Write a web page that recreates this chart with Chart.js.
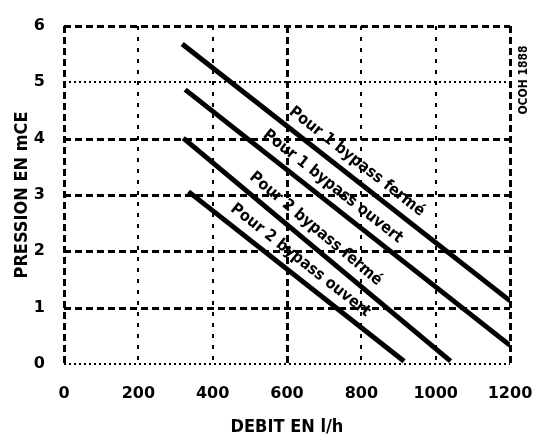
<!DOCTYPE html>
<html>
<head>
<meta charset="utf-8">
<script src="https://cdn.jsdelivr.net/npm/chart.js@4/dist/chart.umd.min.js"></script>
<style>
  html, body { margin: 0; padding: 0; background: #ffffff; }
  #wrap { width: 535px; height: 440px; }
</style>
</head>
<body>
<div id="wrap"><canvas id="c" width="535" height="440"></canvas></div>
<script>
// Axis ticks
const debitTicks = [0, 200, 400, 600, 800, 1000, 1200];
const pressionTicks = [0, 1, 2, 3, 4, 5, 6];

// Pump curves: flow (l/h) and pressure (mCE) at both ends of each straight line
const courbeNoms = ['Pour 1 bypass fermé', 'Pour 1 bypass ouvert', 'Pour 2 bypass fermé', 'Pour 2 bypass ouvert'];
const courbe1Debit = [318, 1200];
const courbe1Pression = [5.68, 1.12];
const courbe2Debit = [326, 1200];
const courbe2Pression = [4.87, 0.33];
const courbe3Debit = [321, 1040];
const courbe3Pression = [4.01, 0.05];
const courbe4Debit = [335, 915];
const courbe4Pression = [3.06, 0.05];

const reference = 'OCOH 1888';

// Flow value where each curve label begins (placement only)
const labelDebitDebut = [585, 515, 478, 428];

const toPoints = (xs, ys) => xs.map((x, i) => ({ x: x, y: ys[i] }));

// Grid line styles per tick value
const styleH = { 0: 'dot', 1: 'dash', 2: 'dash', 3: 'dash', 4: 'dash', 5: 'dot', 6: 'dash' };
const styleV = { 0: 'dash', 200: 'sparse', 400: 'sparse', 600: 'dash', 800: 'sparse', 1000: 'sparse', 1200: 'dash' };
const dashDefs = {
  dash:   { dash: [7, 4], width: 3 },
  dot:    { dash: [2, 3], width: 2 },
  sparse: { dash: [4, 7], width: 2 }
};

const gridPlugin = {
  id: 'grilleMotifs',
  beforeDatasetsDraw(chart) {
    const { ctx, chartArea: a, scales: { x, y } } = chart;
    ctx.save();
    ctx.strokeStyle = '#000';
    ctx.lineCap = 'butt';
    pressionTicks.forEach(v => {
      const d = dashDefs[styleH[v]];
      const py = Math.round(y.getPixelForValue(v)) + (d.width % 2 ? 0.5 : 0);
      ctx.lineWidth = d.width;
      ctx.setLineDash(d.dash);
      ctx.beginPath();
      ctx.moveTo(a.left, py);
      ctx.lineTo(a.right, py);
      ctx.stroke();
    });
    debitTicks.forEach(v => {
      const d = dashDefs[styleV[v]];
      const px = Math.round(x.getPixelForValue(v)) + (d.width % 2 ? 0.5 : 0);
      ctx.lineWidth = d.width;
      ctx.setLineDash(d.dash);
      ctx.beginPath();
      ctx.moveTo(px, a.top);
      ctx.lineTo(px, a.bottom);
      ctx.stroke();
    });
    ctx.restore();
  }
};

const labelPlugin = {
  id: 'etiquettesCourbes',
  afterDatasetsDraw(chart) {
    const { ctx, scales: { x, y } } = chart;
    ctx.save();
    ctx.fillStyle = '#000';
    ctx.font = 'bold 16px "DejaVu Sans Condensed", "DejaVu Sans", sans-serif';
    ctx.textAlign = 'left';
    ctx.textBaseline = 'alphabetic';
    chart.data.datasets.forEach((ds, i) => {
      const p0 = ds.data[0], p1 = ds.data[1];
      const x0 = x.getPixelForValue(p0.x), y0 = y.getPixelForValue(p0.y);
      const x1 = x.getPixelForValue(p1.x), y1 = y.getPixelForValue(p1.y);
      const ang = Math.atan2(y1 - y0, x1 - x0);
      const v = labelDebitDebut[i];
      const t = (v - p0.x) / (p1.x - p0.x);
      const py = y.getPixelForValue(p0.y + t * (p1.y - p0.y));
      const px = x.getPixelForValue(v);
      ctx.save();
      ctx.translate(px, py);
      ctx.rotate(ang);
      ctx.fillText(ds.label, 0, -11);
      ctx.restore();
    });
    // reference code along the right edge
    ctx.font = 'bold 12px "DejaVu Sans Condensed", "DejaVu Sans", sans-serif';
    ctx.textAlign = 'center';
    ctx.textBaseline = 'middle';
    ctx.translate(524, 80);
    ctx.rotate(-Math.PI / 2);
    ctx.fillText(reference, 0, 0);
    ctx.restore();
  }
};

const curves = [
  toPoints(courbe1Debit, courbe1Pression),
  toPoints(courbe2Debit, courbe2Pression),
  toPoints(courbe3Debit, courbe3Pression),
  toPoints(courbe4Debit, courbe4Pression)
];

const tickFont = { family: '"DejaVu Sans", sans-serif', size: 16, weight: 'bold' };
const titleFont = { family: '"DejaVu Sans Condensed", "DejaVu Sans", sans-serif', size: 18, weight: 'bold' };

new Chart(document.getElementById('c'), {
  type: 'line',
  data: {
    datasets: curves.map((pts, i) => ({
      label: courbeNoms[i],
      data: pts,
      borderColor: '#000',
      borderWidth: 5,
      pointRadius: 0,
      borderCapStyle: 'butt',
      fill: false,
      tension: 0
    }))
  },
  options: {
    responsive: false,
    animation: false,
    devicePixelRatio: 1,
    layout: { padding: { top: 26, right: 25, left: 0, bottom: 0 } },
    plugins: { legend: { display: false }, tooltip: { enabled: false } },
    scales: {
      x: {
        type: 'linear',
        min: 0, max: 1200,
        afterBuildTicks: s => { s.ticks = debitTicks.map(v => ({ value: v })); },
        afterFit: s => { s.height = 76; s.paddingLeft = 0; s.paddingRight = 0; },
        grid: { display: false },
        border: { display: false },
        ticks: { color: '#000', font: tickFont, padding: 12, maxRotation: 0, callback: v => String(v) },
        title: { display: true, text: 'DEBIT EN l/h', color: '#000', font: titleFont, padding: { top: 0, bottom: 2 } }
      },
      y: {
        type: 'linear',
        min: 0, max: 6,
        afterBuildTicks: s => { s.ticks = pressionTicks.map(v => ({ value: v })); },
        afterFit: s => { s.width = 64; s.paddingTop = 0; s.paddingBottom = 0; },
        grid: { display: false },
        border: { display: false },
        ticks: { color: '#000', font: tickFont, padding: 11, callback: v => String(v) },
        title: { display: true, text: 'PRESSION EN mCE', color: '#000', font: titleFont, padding: { top: 12, bottom: 0 } }
      }
    }
  },
  plugins: [gridPlugin, labelPlugin]
});
</script>
</body>
</html>
